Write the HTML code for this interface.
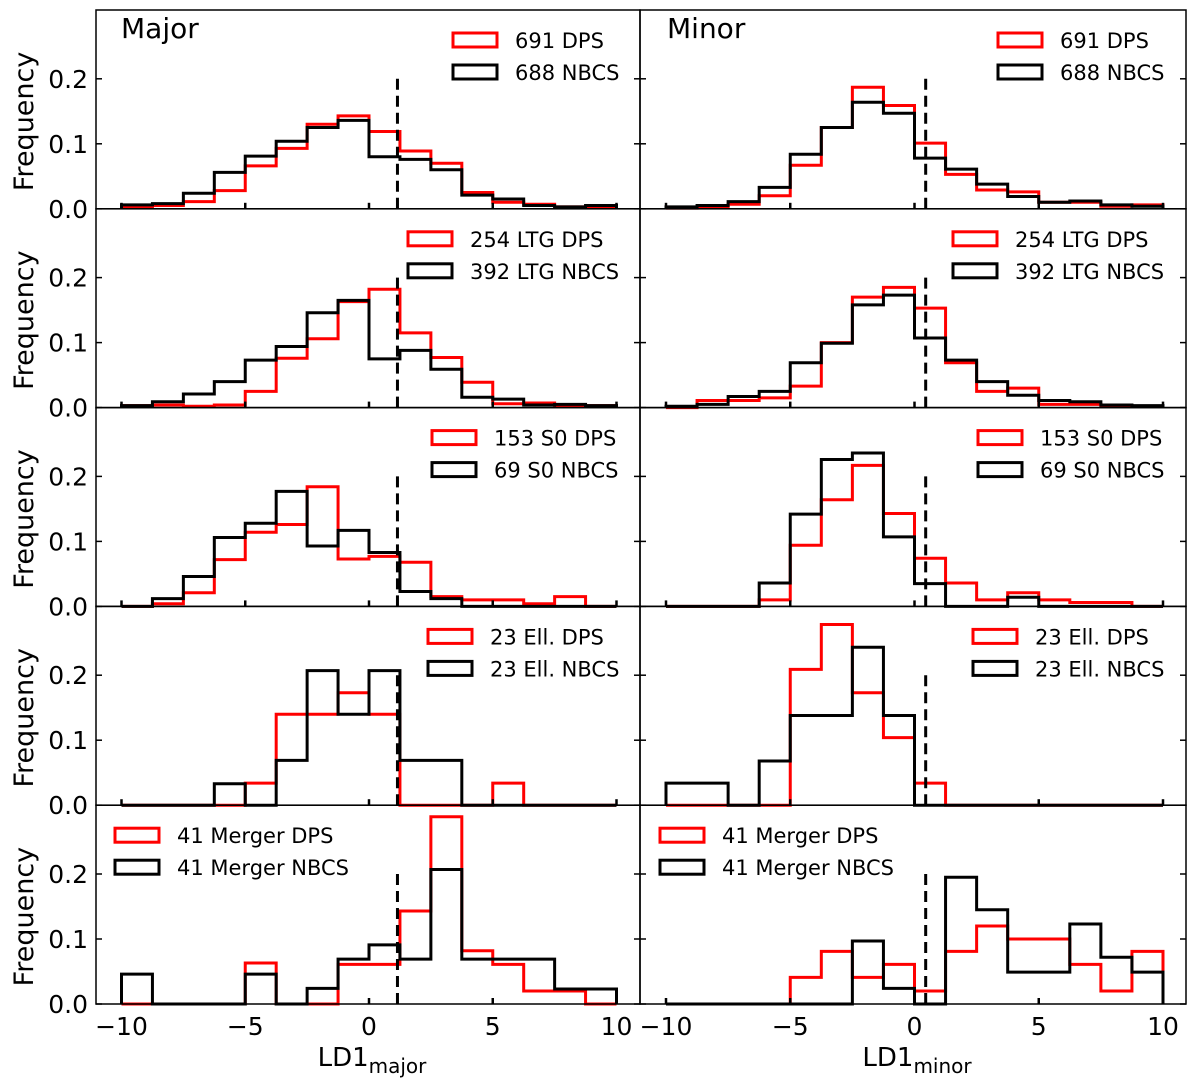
<!DOCTYPE html>
<html><head><meta charset="utf-8"><style>
html,body{margin:0;padding:0;background:#fff;}
svg text{font-family:"DejaVu Sans","Liberation Sans",sans-serif;}
</style></head><body>
<svg id="chart" width="1200" height="1080" xmlns="http://www.w3.org/2000/svg"></svg>
<script>
const binEdges = [-10,-8.75,-7.5,-6.25,-5,-3.75,-2.5,-1.25,0,1.25,2.5,3.75,5,6.25,7.5,8.75,10];
const xTickValues = [-10,-5,0,5,10];
const xTickLabels = ["\u221210","\u22125","0","5","10"];
const yTickValues = [0,0.1,0.2];
const yTickLabels = ["0.0","0.1","0.2"];
const cutMajor = 1.15;
const cutMinor = 0.45;

const legendDPS = ["691 DPS","254 LTG DPS","153 S0 DPS","23 Ell. DPS","41 Merger DPS"];
const legendNBCS = ["688 NBCS","392 LTG NBCS","69 S0 NBCS","23 Ell. NBCS","41 Merger NBCS"];

const majorAllDPS  = [0.003,0.005,0.011,0.028,0.066,0.093,0.130,0.143,0.119,0.089,0.070,0.025,0.010,0.007,0.003,0.002];
const majorAllNBCS = [0.006,0.008,0.024,0.056,0.081,0.104,0.125,0.136,0.080,0.076,0.060,0.021,0.015,0.005,0.003,0.005];
const minorAllDPS  = [0.001,0.002,0.007,0.020,0.067,0.125,0.187,0.159,0.101,0.053,0.029,0.026,0.010,0.010,0.004,0.006];
const minorAllNBCS = [0.003,0.005,0.011,0.033,0.084,0.125,0.164,0.147,0.078,0.061,0.038,0.019,0.010,0.012,0.006,0.004];

const majorLTGDPS  = [0.003,0.004,0.002,0.004,0.025,0.076,0.106,0.163,0.182,0.115,0.077,0.039,0.006,0.007,0.003,0.003];
const majorLTGNBCS = [0.003,0.009,0.021,0.040,0.073,0.094,0.146,0.165,0.075,0.088,0.059,0.016,0.013,0.004,0.005,0.003];
const minorLTGDPS  = [0.000,0.011,0.011,0.015,0.033,0.100,0.170,0.185,0.153,0.069,0.025,0.030,0.005,0.005,0.002,0.002];
const minorLTGNBCS = [0.002,0.005,0.017,0.025,0.069,0.099,0.158,0.173,0.107,0.073,0.040,0.019,0.011,0.009,0.004,0.003];

const majorS0DPS  = [0,0.004,0.021,0.072,0.114,0.126,0.184,0.073,0.077,0.068,0.015,0.010,0.010,0.004,0.015,0];
const majorS0NBCS = [0,0.012,0.046,0.106,0.128,0.177,0.093,0.117,0.083,0.023,0.012,0,0,0,0,0];
const minorS0DPS  = [0,0,0,0.010,0.094,0.164,0.217,0.143,0.074,0.036,0.010,0.021,0.010,0.006,0.006,0];
const minorS0NBCS = [0,0,0,0.036,0.142,0.226,0.236,0.107,0.035,0,0,0.014,0,0,0,0];

const majorEllDPS  = [0,0,0,0,0.034,0.140,0.140,0.173,0.140,0,0,0,0.034,0,0,0];
const majorEllNBCS = [0,0,0,0.033,0,0.069,0.207,0.140,0.207,0.069,0.069,0,0,0,0,0];
const minorEllDPS  = [0,0,0,0,0.209,0.278,0.173,0.104,0.034,0,0,0,0,0,0,0];
const minorEllNBCS = [0.034,0.034,0,0.068,0.138,0.138,0.243,0.138,0,0,0,0,0,0,0,0];

const majorMergerDPS  = [0,0,0,0,0.063,0,0,0.061,0.061,0.143,0.288,0.082,0.061,0.020,0.020,0];
const majorMergerNBCS = [0.046,0,0,0,0.046,0,0.024,0.069,0.091,0.069,0.207,0.069,0.069,0.069,0.023,0.023];
const minorMergerDPS  = [0,0,0,0,0.041,0.081,0.041,0.061,0.020,0.081,0.120,0.100,0.100,0.061,0.020,0.081];
const minorMergerNBCS = [0,0,0,0,0,0,0.097,0.024,0,0.195,0.145,0.049,0.049,0.123,0.072,0.049];

const seriesDPS = [[majorAllDPS,minorAllDPS],[majorLTGDPS,minorLTGDPS],[majorS0DPS,minorS0DPS],[majorEllDPS,minorEllDPS],[majorMergerDPS,minorMergerDPS]];
const seriesNBCS = [[majorAllNBCS,minorAllNBCS],[majorLTGNBCS,minorLTGNBCS],[majorS0NBCS,minorS0NBCS],[majorEllNBCS,minorEllNBCS],[majorMergerNBCS,minorMergerNBCS]];

const svg = document.getElementById('chart');
const NS = 'http://www.w3.org/2000/svg';
function mk(tag, attrs, parent){
  const e = document.createElementNS(NS, tag);
  for (const k in attrs) e.setAttribute(k, attrs[k]);
  (parent||svg).appendChild(e);
  return e;
}
const top0 = 10, rowH = 198.8;
const cols = [{x0:96,x1:640,zero:369,ppu:24.75},{x0:640,x1:1186,zero:914.5,ppu:24.85}];
const yScalePx = 650;
function xs(c, v){ return cols[c].zero + v*cols[c].ppu; }
function ys(r, v){ return top0 + rowH*(r+1) - v*yScalePx; }
const legendBoxX = [[453,998],[408,953],[432,978],[428,973],[115,660]];

for (let r=0;r<5;r++){
  for (let c=0;c<2;c++){
    const g = mk('g',{});
    
    
    const yb = ys(r,0), yt = top0 + rowH*r;
    [[seriesDPS[r][c],'#ff0000','dps'],[seriesNBCS[r][c],'#000000','nbcs']].forEach(function(s){
      const vals = s[0];
      let d = 'M'+xs(c,binEdges[0])+','+yb;
      for (let i=0;i<vals.length;i++){
        d += ' L'+xs(c,binEdges[i])+','+ys(r,vals[i])+' L'+xs(c,binEdges[i+1])+','+ys(r,vals[i]);
      }
      d += ' L'+xs(c,binEdges[binEdges.length-1])+','+yb;
      const p = mk('path',{d:d,fill:'none',stroke:s[1],'stroke-width':3,'stroke-linejoin':'miter'},g);
      
      
    });
    const cx = xs(c, c===0?cutMajor:cutMinor);
    const cl = mk('line',{x1:cx,x2:cx,y1:ys(r,0.2),y2:yb,stroke:'#000','stroke-width':3,'stroke-dasharray':'11,6'},g);
    
    
    const fr = mk('rect',{x:cols[c].x0,y:yt,width:cols[c].x1-cols[c].x0,height:rowH,fill:'none',stroke:'#000','stroke-width':1.5},g);
    
    
    xTickValues.forEach(function(v){
      const t = mk('line',{x1:xs(c,v),x2:xs(c,v),y1:yb,y2:yb-6,stroke:'#000','stroke-width':2.5},g);
      
      
    });
    yTickValues.forEach(function(v){
      const t1 = mk('line',{x1:cols[c].x0,x2:cols[c].x0+6,y1:ys(r,v),y2:ys(r,v),stroke:'#000','stroke-width':1.5},g);
      
      
      const t2 = mk('line',{x1:cols[c].x1,x2:cols[c].x1-6,y1:ys(r,v),y2:ys(r,v),stroke:'#000','stroke-width':1.5},g);
      
      
    });
    const bx = legendBoxX[r][c];
    const lb1 = mk('rect',{x:bx,y:yt+23,width:44,height:14,fill:'none',stroke:'#ff0000','stroke-width':3},g);
    
    
    const lt1 = mk('text',{x:bx+62,y:yt+38,'font-size':21,fill:'#000'},g);
    lt1.textContent = legendDPS[r];
    
    
    const lb2 = mk('rect',{x:bx,y:yt+55,width:44,height:14,fill:'none',stroke:'#000','stroke-width':3},g);
    
    
    const lt2 = mk('text',{x:bx+62,y:yt+70,'font-size':21,fill:'#000'},g);
    lt2.textContent = legendNBCS[r];
    
    
  }
  yTickValues.forEach(function(v,i){
    const t = mk('text',{x:88,y:ys(r,v)+9,'font-size':25,'text-anchor':'end',fill:'#000'});
    t.textContent = yTickLabels[i];
    
    
  });
  const yc = top0 + rowH*r + rowH/2 + 12;
  const ft = mk('text',{x:0,y:0,'font-size':27,'text-anchor':'middle',fill:'#000',transform:'translate(33,'+yc+') rotate(-90)'});
  ft.textContent = 'Frequency';
  
  
}
for (let c=0;c<2;c++){
  xTickValues.forEach(function(v,i){
    const t = mk('text',{x:xs(c,v),y:1035,'font-size':25,'text-anchor':'middle',fill:'#000'});
    t.textContent = xTickLabels[i];
    
    
  });
}
const titles = [['Major',121],['Minor',667]];
titles.forEach(function(tt){
  const t = mk('text',{x:tt[1],y:38,'font-size':28,fill:'#000'});
  t.textContent = tt[0];
  
  
});
const xt = [['major',372],['minor',917]];
xt.forEach(function(a){
  const t = mk('text',{x:a[1],y:1066,'font-size':26,'text-anchor':'middle',fill:'#000'});
  t.textContent = 'LD1';
  const s = mk('tspan',{'font-size':20,dy:7},t);
  s.textContent = a[0];
  
  
});
</script>
</body></html>
